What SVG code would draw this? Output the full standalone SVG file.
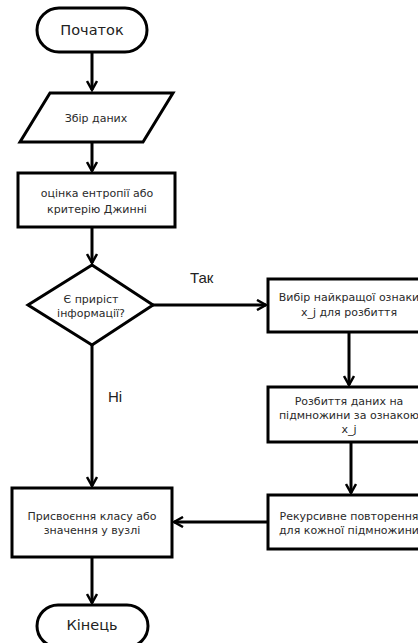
<svg xmlns="http://www.w3.org/2000/svg" width="418" height="643" viewBox="0 0 418 643">
<defs>
<style>
.s{fill:#fff;stroke:#000;stroke-width:3}
.c{fill:none;stroke:#000;stroke-width:3}
.t{font-family:"DejaVu Sans","Noto Sans",sans-serif;font-size:11px;fill:#2a2a2a;text-anchor:middle}
.b{font-family:"DejaVu Sans","Noto Sans",sans-serif;font-size:14.5px;fill:#222;text-anchor:middle}
.l{font-family:"Liberation Sans","Noto Sans",sans-serif;font-size:15px;fill:#222}
</style>
<marker id="a" viewBox="0 0 12 12" refX="10" refY="6" markerWidth="4" markerHeight="4" orient="auto" markerUnits="strokeWidth">
<path d="M1,1 L10,6 L1,11" fill="none" stroke="#000" stroke-width="2.5"/>
</marker>
</defs>
<g id="connectors">
<line class="c" x1="92" y1="52" x2="92" y2="90" marker-end="url(#a)"/>
<line class="c" x1="92" y1="142" x2="92" y2="171" marker-end="url(#a)"/>
<line class="c" x1="92" y1="227" x2="92" y2="263" marker-end="url(#a)"/>
<line class="c" x1="153" y1="305" x2="266" y2="305" marker-end="url(#a)"/>
<line class="c" x1="92" y1="345" x2="92" y2="486" marker-end="url(#a)"/>
<line class="c" x1="349" y1="332" x2="349" y2="385" marker-end="url(#a)"/>
<line class="c" x1="351" y1="442" x2="351" y2="493" marker-end="url(#a)"/>
<line class="c" x1="268" y1="522" x2="174" y2="522" marker-end="url(#a)"/>
<line class="c" x1="92" y1="557" x2="92" y2="603" marker-end="url(#a)"/>
<text class="l" x="190" y="283">Так</text>
<text class="l" x="108" y="402">Ні</text>
</g>
<g id="start">
<rect class="s" x="37" y="8" width="110" height="44" rx="22"/>
<text class="b" x="92" y="35">Початок</text>
</g>
<g id="collect">
<polygon class="s" points="50,93 173,93 143,142 20,142"/>
<text class="t" x="96" y="122">Збір даних</text>
</g>
<g id="estimate">
<rect class="s" x="18" y="173" width="157" height="54"/>
<text class="t" x="97" y="197">оцінка ентропії або</text>
<text class="t" x="97" y="213">критерію Джинні</text>
</g>
<g id="decision">
<polygon class="s" points="92,265 153,305 92,345 28,305"/>
<text class="t" x="91" y="303">Є приріст</text>
<text class="t" x="91" y="317">інформації?</text>
</g>
<g id="select">
<rect class="s" x="268" y="279" width="162" height="53"/>
<text class="t" x="349" y="301">Вибір найкращої ознаки</text>
<text class="t" x="349" y="316">x_j для розбиття</text>
</g>
<g id="split">
<rect class="s" x="268" y="387" width="162" height="55"/>
<text class="t" x="349" y="405">Розбиття даних на</text>
<text class="t" x="349" y="419">підмножини за ознакою</text>
<text class="t" x="349" y="433">x_j</text>
</g>
<g id="recurse">
<rect class="s" x="268" y="495" width="162" height="54"/>
<text class="t" x="349" y="520">Рекурсивне повторення</text>
<text class="t" x="349" y="534">для кожної підмножини</text>
</g>
<g id="assign">
<rect class="s" x="12" y="488" width="160" height="69"/>
<text class="t" x="92" y="520">Присвоєння класу або</text>
<text class="t" x="92" y="534">значення у вузлі</text>
</g>
<g id="end">
<rect class="s" x="37" y="605" width="111" height="42" rx="21"/>
<text class="b" x="92" y="630">Кінець</text>
</g>
</svg>
